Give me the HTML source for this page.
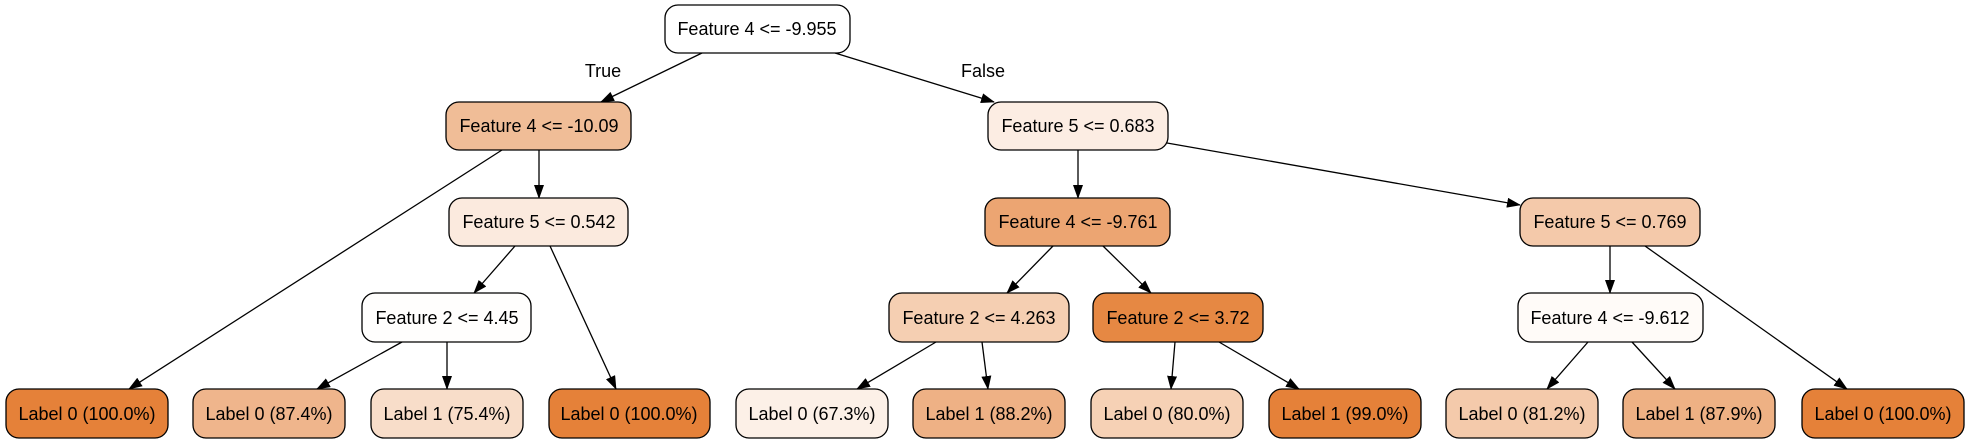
<!DOCTYPE html>
<html><head><meta charset="utf-8"><style>
html,body{margin:0;padding:0;background:#fff;}
svg{display:block;}
text{font-family:"Liberation Sans",Arial,sans-serif;font-size:18px;fill:#000;}
</style></head><body>
<svg width="1969" height="443" viewBox="0 0 1969 443" xmlns="http://www.w3.org/2000/svg">
<defs>
<marker id="a" markerWidth="14" markerHeight="10" refX="13" refY="5" orient="auto" markerUnits="userSpaceOnUse">
<path d="M0,0 L14,5 L0,10 Z" fill="#000"/>
</marker>
</defs>
<g stroke="#000" stroke-width="1.3" fill="none" marker-end="url(#a)">
<line x1="702" y1="53" x2="601" y2="102"/>
<line x1="835" y1="53" x2="994" y2="102"/>
<line x1="502" y1="150" x2="129" y2="389"/>
<line x1="539" y1="150" x2="539" y2="198"/>
<line x1="515" y1="246" x2="474" y2="293"/>
<line x1="550" y1="246" x2="616" y2="389"/>
<line x1="402" y1="342" x2="317" y2="389"/>
<line x1="447" y1="342" x2="447" y2="389"/>
<line x1="1078" y1="150" x2="1078" y2="198"/>
<line x1="1167" y1="143" x2="1520" y2="205"/>
<line x1="1053" y1="246" x2="1007" y2="293"/>
<line x1="1103" y1="246" x2="1151" y2="293"/>
<line x1="936" y1="342" x2="857" y2="389"/>
<line x1="982" y1="342" x2="988" y2="389"/>
<line x1="1175" y1="342" x2="1171" y2="389"/>
<line x1="1219" y1="342" x2="1299" y2="389"/>
<line x1="1610" y1="246" x2="1610" y2="293"/>
<line x1="1645" y1="246" x2="1847" y2="389"/>
<line x1="1588" y1="342" x2="1547" y2="389"/>
<line x1="1632" y1="342" x2="1675" y2="389"/>
</g>
<text x="603" y="77" text-anchor="middle">True</text>
<text x="983" y="77" text-anchor="middle">False</text>
<g stroke="#000" stroke-width="1.3">
<rect x="665" y="5" width="185" height="48" rx="13" fill="#ffffff"/>
<rect x="446" y="102" width="185" height="48" rx="13" fill="#f0bd97"/>
<rect x="988" y="102" width="180" height="48" rx="13" fill="#fcede3"/>
<rect x="449" y="198" width="179" height="48" rx="13" fill="#fbeade"/>
<rect x="985" y="198" width="185" height="48" rx="13" fill="#eca572"/>
<rect x="1520" y="198" width="180" height="48" rx="13" fill="#f4c9aa"/>
<rect x="362" y="293" width="169" height="49" rx="13" fill="#fffefd"/>
<rect x="889" y="293" width="180" height="49" rx="13" fill="#f5cfb2"/>
<rect x="1093" y="293" width="170" height="49" rx="13" fill="#e68843"/>
<rect x="1518" y="293" width="185" height="49" rx="13" fill="#fffbf8"/>
<rect x="6" y="389" width="162" height="49" rx="13" fill="#e58139"/>
<rect x="193" y="389" width="152" height="49" rx="13" fill="#efb58c"/>
<rect x="371" y="389" width="152" height="49" rx="13" fill="#f8ddc9"/>
<rect x="549" y="389" width="161" height="49" rx="13" fill="#e58139"/>
<rect x="736" y="389" width="152" height="49" rx="13" fill="#fcf0e7"/>
<rect x="913" y="389" width="152" height="49" rx="13" fill="#eeb185"/>
<rect x="1091" y="389" width="152" height="49" rx="13" fill="#f6d1b5"/>
<rect x="1269" y="389" width="152" height="49" rx="13" fill="#e58139"/>
<rect x="1446" y="389" width="152" height="49" rx="13" fill="#f4caab"/>
<rect x="1623" y="389" width="152" height="49" rx="13" fill="#eeb184"/>
<rect x="1802" y="389" width="162" height="49" rx="13" fill="#e58139"/>
</g>
<g text-anchor="middle">
<text x="757" y="35">Feature 4 &lt;= -9.955</text>
<text x="539" y="132">Feature 4 &lt;= -10.09</text>
<text x="1078" y="132">Feature 5 &lt;= 0.683</text>
<text x="539" y="228">Feature 5 &lt;= 0.542</text>
<text x="1078" y="228">Feature 4 &lt;= -9.761</text>
<text x="1610" y="228">Feature 5 &lt;= 0.769</text>
<text x="447" y="324">Feature 2 &lt;= 4.45</text>
<text x="979" y="324">Feature 2 &lt;= 4.263</text>
<text x="1178" y="324">Feature 2 &lt;= 3.72</text>
<text x="1610" y="324">Feature 4 &lt;= -9.612</text>
<text x="87" y="420">Label 0 (100.0%)</text>
<text x="269" y="420">Label 0 (87.4%)</text>
<text x="447" y="420">Label 1 (75.4%)</text>
<text x="629" y="420">Label 0 (100.0%)</text>
<text x="812" y="420">Label 0 (67.3%)</text>
<text x="989" y="420">Label 1 (88.2%)</text>
<text x="1167" y="420">Label 0 (80.0%)</text>
<text x="1345" y="420">Label 1 (99.0%)</text>
<text x="1522" y="420">Label 0 (81.2%)</text>
<text x="1699" y="420">Label 1 (87.9%)</text>
<text x="1883" y="420">Label 0 (100.0%)</text>
</g>
</svg>
</body></html>
